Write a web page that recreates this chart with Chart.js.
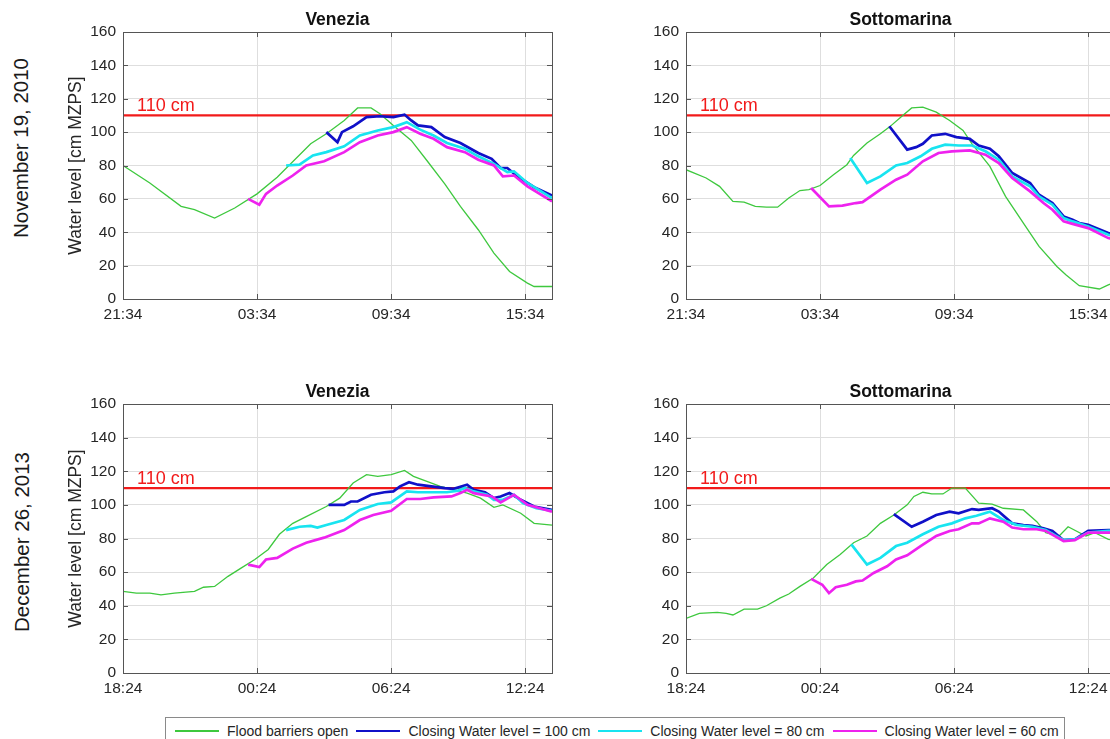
<!DOCTYPE html>
<html>
<head>
<meta charset="utf-8">
<script src="https://cdn.jsdelivr.net/npm/chart.js@4.4.1/dist/chart.umd.min.js"></script>
<style>
  html, body { margin: 0; padding: 0; background: #fff; }
  body { width: 1110px; height: 739px; overflow: hidden; position: relative;
         font-family: "Liberation Sans", Arial, sans-serif; }
  canvas { position: absolute; }
  .rowlabel { position: absolute; white-space: nowrap; font-size: 20.5px; color: #1a1a1a;
              transform: translate(-50%, -50%) rotate(-90deg); }
  #legend { position: absolute; left: 165px; top: 717px; height: 26px; border: 1px solid #8a8a8a;
            display: flex; align-items: center; padding: 0 5px 0 9px; font-size: 14px;
            color: #262626; white-space: nowrap; background: #fff; }
  .item { display: flex; align-items: center; margin-right: 8px; }
  .item:last-child { margin-right: 0; }
  .swatch { width: 44px; margin-right: 8px; }
</style>
</head>
<body>
<canvas id="c2010v" width="530" height="330" style="left:40px;top:0px"></canvas>
<canvas id="c2010s" width="530" height="330" style="left:603px;top:0px"></canvas>
<canvas id="c2013v" width="530" height="332" style="left:40px;top:372px"></canvas>
<canvas id="c2013s" width="530" height="332" style="left:603px;top:372px"></canvas>
<div class="rowlabel" style="left:21px;top:148px">November 19, 2010</div>
<div class="rowlabel" style="left:22px;top:542px">December 26, 2013</div>
<div id="legend"></div>

<script>
// Time axis: hours elapsed since the first sample of each event
const hoursSpan = 19.2;
const tickHours = [0, 6, 12, 18];
const ticks2010 = ['21:34', '03:34', '09:34', '15:34'];
const ticks2013 = ['18:24', '00:24', '06:24', '12:24'];
const alarmLevel = 110;
const alarmText = '110 cm';

const seriesLabels = ['Flood barriers open', 'Closing Water level = 100 cm',
                      'Closing Water level = 80 cm', 'Closing Water level = 60 cm'];
const siteNames = ['Venezia', 'Sottomarina'];

// Water levels [hours, cm MZPS] — Venezia, 19 November 2010
const venezia2010Open = [[0,80],[1.2,69.5],[2.6,55.5],[3.2,53.5],[4.1,48.5],[5.0,54.5],[6.0,63],[6.9,73],[8.4,93],[9.1,99],[9.9,107],[10.5,114.5],[11.1,114.5],[11.5,111],[12.1,104],[12.9,95],[13.6,83],[14.4,69],[15.1,55.5],[15.9,41.5],[16.6,27.5],[17.3,16.5],[18.1,9.5],[18.4,7.5],[19.2,7.5]];
const venezia2010Close100 = [[9.1,100],[9.6,94],[9.8,100],[10.3,103.5],[10.9,109],[11.5,109.5],[12.1,109],[12.6,110.5],[12.9,107],[13.2,104],[13.8,103],[14.4,97],[15.1,93.5],[15.9,87.5],[16.5,84],[16.9,78.5],[17.2,78.5],[17.6,74],[18.4,67],[19.2,62]];
const venezia2010Close80 = [[7.3,80],[7.9,80.5],[8.5,86],[9.1,88],[9.9,91.5],[10.6,98],[11.4,101],[12.1,103],[12.7,106],[13.3,101.5],[13.9,98],[14.5,93.5],[15.3,90],[15.9,85.5],[16.6,81],[17.2,76],[17.5,76.5],[18.1,69.5],[19.2,60.5]];
const venezia2010Close60 = [[5.6,60],[6.1,56.5],[6.4,63],[6.9,68],[7.6,74],[8.2,80],[9.0,82.5],[9.9,88],[10.6,94],[11.4,98],[12.1,100],[12.7,103],[13.3,99],[13.9,96],[14.5,91],[15.3,88],[15.9,83.5],[16.6,80],[17.0,73.5],[17.5,74],[18.1,67.5],[19.2,58.5]];

// Sottomarina, 19 November 2010
const sottomarina2010Open = [[0,77.5],[0.9,72.5],[1.5,67.5],[2.1,58.5],[2.6,58],[3.1,55.5],[3.6,55],[4.1,55],[4.6,60.5],[5.1,65],[5.5,65.5],[6.0,68],[6.6,74.5],[7.2,80.5],[7.5,86],[8.1,93.5],[8.7,99],[9.1,103],[9.7,110],[10.1,114.5],[10.6,115],[11.2,112],[11.8,107],[12.4,101],[12.8,93],[13.6,79.5],[14.3,61.5],[15.1,45.5],[15.8,31.5],[16.6,19.5],[17.0,14.5],[17.6,8],[18.5,6],[18.9,8.5],[19.2,10]];
const sottomarina2010Close100 = [[9.1,103.5],[9.9,89.5],[10.3,91],[10.6,93],[11.0,98],[11.6,99],[12.1,97],[12.7,96],[13.1,92],[13.6,90],[14.0,85.5],[14.6,75.5],[15.4,69.5],[15.8,62.5],[16.4,57.5],[16.9,49.5],[17.3,47.5],[17.6,45.5],[18.0,44.5],[18.9,39.5],[19.2,38.5]];
const sottomarina2010Close80 = [[7.35,84.5],[8.1,69.5],[8.7,73.5],[9.4,80],[9.9,81.5],[10.5,85.5],[11.0,90],[11.6,92.5],[12.2,92],[12.8,92],[13.4,88.5],[14.0,83.5],[14.6,73.5],[15.4,67.5],[15.8,61.5],[16.4,56.5],[16.9,48.5],[17.3,46.5],[18.0,43.5],[18.9,38.5],[19.2,37.5]];
const sottomarina2010Close60 = [[5.6,66.5],[6.4,55.5],[7.0,56],[7.6,57.5],[7.9,58],[8.7,65.5],[9.4,71.5],[9.9,74.5],[10.6,82.5],[11.3,87.5],[11.9,88.5],[12.7,89],[13.4,86.5],[14.0,81.5],[14.6,72.5],[15.4,64.5],[16.0,57.5],[16.4,53.5],[16.9,46.5],[17.3,45],[18.0,42.5],[18.9,36.5],[19.2,35.5]];

// Venezia, 26 December 2013
const venezia2013Open = [[0,48.5],[0.6,47.5],[1.2,47.5],[1.7,46.5],[2.3,47.5],[3.2,48.5],[3.6,51],[4.1,51.5],[4.7,57.5],[5.3,62.5],[5.9,67.5],[6.5,73.5],[7.0,82.5],[7.6,89],[8.2,93],[9.1,99],[9.7,104],[10.3,113],[10.9,118],[11.4,117],[12.0,118],[12.6,120.5],[13.0,117],[13.6,114],[14.2,111],[14.8,109],[15.4,107],[16.0,104],[16.6,98.5],[17.0,100],[17.8,95],[18.4,89],[19.2,88]];
const venezia2013Close100 = [[9.2,100],[9.9,100],[10.2,102],[10.5,102],[11.1,106],[11.7,107.5],[12.1,108],[12.4,111],[12.8,113.5],[13.2,112],[13.8,111],[14.4,110],[14.8,109.5],[15.4,112],[15.7,109],[16.2,107.5],[16.6,104],[16.9,105],[17.3,107],[17.8,103],[18.4,99],[19.2,97]];
const venezia2013Close80 = [[7.3,85],[7.9,87],[8.4,87.5],[8.7,86.5],[9.1,88],[9.9,91],[10.6,97],[11.4,100.5],[12.0,101.5],[12.7,108],[13.2,107.5],[13.8,107.5],[14.5,107.5],[15.0,108.5],[15.3,110],[15.7,108],[16.3,106],[16.6,103],[17.0,103],[17.5,106],[17.9,101],[18.5,98],[19.2,96.5]];
const venezia2013Close60 = [[5.6,64.5],[6.1,63],[6.4,67.5],[6.9,68.5],[7.6,74],[8.2,77.5],[9.0,80.5],[9.9,85],[10.6,91],[11.2,94],[12.0,96.5],[12.7,103.5],[13.3,103.5],[13.9,104.5],[14.7,105],[15.1,107],[15.4,109],[15.7,107],[16.5,105],[16.9,101.5],[17.5,106],[18.1,100],[19.2,96]];

// Sottomarina, 26 December 2013
const sottomarina2013Open = [[0,32.5],[0.6,35.5],[1.4,36],[1.8,35.5],[2.1,34.5],[2.6,38],[3.2,38],[3.6,40],[4.2,44.5],[4.6,47],[5.1,51.5],[5.7,56.5],[6.3,64.5],[6.9,70.5],[7.5,77.5],[8.1,81.5],[8.7,89],[9.3,94],[9.9,100],[10.2,105],[10.6,107.5],[11.0,106.5],[11.5,106.5],[11.9,110],[12.5,110],[13.1,101],[13.7,100.5],[14.2,98],[15.1,97],[15.7,90],[16.1,83.5],[16.7,81.5],[17.1,87],[17.9,81.5],[18.3,83.5],[18.9,79.5],[19.2,79]];
const sottomarina2013Close100 = [[9.3,94.5],[10.1,87],[10.6,90],[11.2,94],[11.8,96],[12.2,95],[12.8,97.5],[13.1,97],[13.7,98],[14.0,96],[14.6,89],[15.1,88],[15.5,87.5],[16.0,86],[16.4,84.5],[16.9,79],[17.4,79.5],[18.0,84.5],[18.9,85],[19.2,85]];
const sottomarina2013Close80 = [[7.4,76.5],[8.1,64.5],[8.7,68.5],[9.4,75.5],[9.9,77.5],[10.6,82.5],[11.3,87],[11.9,89],[12.5,92],[13.0,93.5],[13.6,96],[14.2,91],[14.8,88],[15.5,87],[16.1,85],[16.9,79],[17.4,79.5],[18.0,83.5],[18.9,84.5],[19.2,84.5]];
const sottomarina2013Close60 = [[5.6,56],[6.1,52.5],[6.4,47.5],[6.7,51],[7.2,52.5],[7.6,54.5],[7.9,55],[8.4,59.5],[9.0,63.5],[9.4,67.5],[9.9,70],[10.5,75.5],[11.2,81.5],[11.8,84.5],[12.2,85.5],[12.8,89],[13.1,89],[13.6,92],[14.2,90],[14.6,86.5],[15.1,85.5],[15.7,85.5],[16.1,84.5],[16.9,78.5],[17.4,79],[18.0,83.5],[18.9,83.5],[19.2,83.5]];

// Line styling per series (open, 100, 80, 60) and the alarm line
const seriesColors = ['#3ec83e', '#1010c8', '#18e4f0', '#ee22ee'];
const seriesWidths = [1.3, 2.7, 2.7, 2.7];
const alarmColor = '#f21a1a';
const ink = '#262626';
const FONT = '"Liberation Sans", Arial, sans-serif';

// Frame, inward tick marks, panel title and the alarm-level caption
const panelDecor = {
  id: 'panelDecor',
  afterDatasetsDraw(chart, args, opts) {
    const { ctx, chartArea: a, scales: { x, y } } = chart;
    ctx.save();
    ctx.strokeStyle = '#555';
    ctx.lineWidth = 1;
    ctx.beginPath();
    x.ticks.forEach(t => {
      const px = Math.round(x.getPixelForValue(t.value)) + 0.5;
      ctx.moveTo(px, a.bottom); ctx.lineTo(px, a.bottom - 5);
      ctx.moveTo(px, a.top); ctx.lineTo(px, a.top + 5);
    });
    y.ticks.forEach(t => {
      const py = Math.round(y.getPixelForValue(t.value)) + 0.5;
      ctx.moveTo(a.left, py); ctx.lineTo(a.left + 5, py);
      ctx.moveTo(a.right, py); ctx.lineTo(a.right - 5, py);
    });
    ctx.stroke();
    ctx.strokeRect(Math.round(a.left) + 0.5, Math.round(a.top) + 0.5,
                   Math.round(a.right - a.left), Math.round(a.bottom - a.top));

    // alarm caption sits just above the red line
    ctx.fillStyle = alarmColor;
    ctx.font = '18px ' + FONT;
    ctx.textAlign = 'left';
    ctx.textBaseline = 'alphabetic';
    ctx.fillText(alarmText, a.left + 14, y.getPixelForValue(alarmLevel) - 4.5);

    // panel title centred over the plot area
    ctx.fillStyle = '#111';
    ctx.font = 'bold 17.5px ' + FONT;
    ctx.textAlign = 'center';
    ctx.textBaseline = 'middle';
    ctx.fillText(opts.text, (a.left + a.right) / 2, a.top - 12);
    ctx.restore();
  }
};

function makePanel(canvasId, title, tickLabels, series, showYTitle) {
  const datasets = series.map((pts, i) => ({
    label: seriesLabels[i],
    data: pts.map(([h, v]) => ({ x: h, y: v })),
    borderColor: seriesColors[i],
    borderWidth: seriesWidths[i],
    pointRadius: 0,
    tension: 0,
    fill: false,
    order: 4 - i
  }));
  datasets.push({
    label: alarmText,
    data: [{ x: 0, y: alarmLevel }, { x: hoursSpan, y: alarmLevel }],
    borderColor: alarmColor,
    borderWidth: 2.2,
    pointRadius: 0,
    fill: false,
    order: 10
  });

  return new Chart(document.getElementById(canvasId), {
    type: 'line',
    data: { datasets },
    plugins: [panelDecor],
    options: {
      responsive: false,
      animation: false,
      events: [],
      layout: { padding: { top: 32, right: 18, left: 0, bottom: 0 } },
      plugins: {
        legend: { display: false },
        tooltip: { enabled: false },
        title: { display: false },
        panelDecor: { text: title }
      },
      scales: {
        x: {
          type: 'linear',
          min: 0,
          max: hoursSpan,
          afterBuildTicks: s => { s.ticks = tickHours.map(v => ({ value: v })); },
          afterFit: s => { s.height = 31; },
          ticks: {
            autoSkip: false,
            maxRotation: 0,
            padding: 6,
            color: ink,
            font: { family: FONT, size: 15.5 },
            callback: (v) => tickLabels[tickHours.indexOf(v)]
          },
          grid: { color: '#dedede', drawTicks: false },
          border: { display: false }
        },
        y: {
          min: 0,
          max: 160,
          afterFit: s => { s.width = 83; },
          ticks: {
            stepSize: 20,
            padding: 7,
            color: ink,
            font: { family: FONT, size: 15.5 }
          },
          grid: { color: '#dedede', drawTicks: false },
          border: { display: false },
          title: {
            display: showYTitle,
            text: 'Water level [cm MZPS]',
            color: ink,
            font: { family: FONT, size: 17.5, lineHeight: 1.2 },
            padding: { top: 26, bottom: 0 }
          }
        }
      }
    }
  });
}

makePanel('c2010v', siteNames[0], ticks2010,
  [venezia2010Open, venezia2010Close100, venezia2010Close80, venezia2010Close60], true);
makePanel('c2010s', siteNames[1], ticks2010,
  [sottomarina2010Open, sottomarina2010Close100, sottomarina2010Close80, sottomarina2010Close60], false);
makePanel('c2013v', siteNames[0], ticks2013,
  [venezia2013Open, venezia2013Close100, venezia2013Close80, venezia2013Close60], true);
makePanel('c2013s', siteNames[1], ticks2013,
  [sottomarina2013Open, sottomarina2013Close100, sottomarina2013Close80, sottomarina2013Close60], false);

// Shared legend below the four panels
const legend = document.getElementById('legend');
seriesLabels.forEach((label, i) => {
  const item = document.createElement('div');
  item.className = 'item';
  const sw = document.createElement('div');
  sw.className = 'swatch';
  sw.style.height = seriesWidths[i] + 'px';
  sw.style.background = seriesColors[i];
  const tx = document.createElement('span');
  tx.textContent = label;
  item.appendChild(sw);
  item.appendChild(tx);
  legend.appendChild(item);
});
</script>
</body>
</html>
